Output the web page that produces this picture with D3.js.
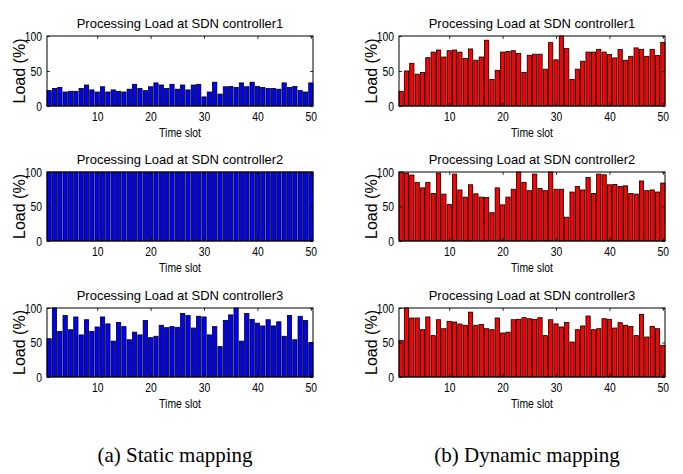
<!DOCTYPE html>
<html>
<head>
<meta charset="utf-8">
<script src="https://cdn.jsdelivr.net/npm/d3@7/dist/d3.min.js"></script>
<style>
  html, body { margin: 0; padding: 0; background: #fff; }
  svg { display: block; }
</style>
</head>
<body>
<svg id="chart" width="683" height="474"></svg>
<script>
// ---- data ----
const timeSlots = d3.range(1, 51);
const xTicks = [10, 20, 30, 40, 50];
const yTicks = [0, 50, 100];
const panelTitles = ["Processing Load at SDN controller1", "Processing Load at SDN controller2", "Processing Load at SDN controller3"];
const captions = ["(a) Static mapping", "(b) Dynamic mapping"];
const xLabel = "Time slot";
const yLabel = "Load (%)";

const staticC1 = [22,25,26.5,20,21,21,25,30,23,20,27.5,20,23,21,20,24,31,25,22,27.5,33,30,25,31,24,30,23,30,31,13,20,34,17,27.5,28,26.5,33,27.5,34,28,26.5,25,25,24,33,26.5,28,22,20,33];
const staticC2 = [100,100,100,100,100,100,100,100,100,100,100,100,100,100,100,100,100,100,100,100,100,100,100,100,100,100,100,100,100,100,100,100,100,100,100,100,100,100,100,100,100,100,100,100,100,100,100,100,100,100];
const staticC3 = [55.5,100,66,89,68.5,87,61,83,66,72.5,87,77,52,79,73,54,65,61,82,57,59,75,71.5,73,72,92,89,71,88,87,61,73,44,82,90,100,52,92,83.5,78,74,83,74,80,59,89,54,88,82,50];
const dynamicC1 = [21,50,61,45.5,48,69,77,80,70,79,80,77,68,81.5,65.5,70,94,38,51,77,78,79,75,48,72.5,74,74,52.6,90.5,66,100,82,38,52.6,64,77,77,81,77,73.5,68.7,80.6,65.4,71,83,81,71,81,72,91];
const dynamicC2 = [100,98.5,95.6,85,77,85,69,98.5,68,53,97,74,63.6,81.5,68.4,63.6,63,41,77,52.4,63.6,75,100,85,73,97,76,73,100,75,75,34.5,71,79,74,92,69,97,96,81.5,82,79,80,69,68,87,73,74,71,84];
const dynamicC3 = [53,100,85.5,85.5,68.6,87,60,83,70,80.7,79.7,76.8,75,94,75,76,70,68.6,85.5,63.8,65,83,83.6,86,84.5,83.6,86,60,83,77,72.5,79,50.7,68.6,74,88.4,68.6,70,84.5,83.6,71,78.7,75,73.4,60,90.8,58,73.4,70,46];

const columns = [
  { series: [staticC1, staticC2, staticC3], color: "#0000ff" },
  { series: [dynamicC1, dynamicC2, dynamicC3], color: "#ff0000" }
];

// ---- layout ----
const colX = [[47, 313], [399, 665]];
const rowY = [[36, 106], [172, 241], [308, 377]];
const captionY = 462;
const narrow = 0.8;

const svg = d3.select("#chart");
const sans = "'Liberation Sans', Arial, Helvetica, sans-serif";

columns.forEach((col, ci) => {
  const [xl, xr] = colX[ci];
  const x = d3.scaleLinear().domain([0.6, 50.4]).range([xl, xr]);
  col.series.forEach((vals, ri) => {
    const [yt, yb] = rowY[ri];
    const y = d3.scaleLinear().domain([0, 100]).range([yb, yt]);
    const g = svg.append("g");

    // bars
    g.selectAll("rect.bar").data(timeSlots).enter().append("rect")
      .attr("class", "bar")
      .attr("x", d => x(d - 0.4))
      .attr("width", d => x(d + 0.4) - x(d - 0.4))
      .attr("y", (d, i) => y(vals[i]))
      .attr("height", (d, i) => y(0) - y(vals[i]))
      .attr("fill", col.color)
      .attr("stroke", "#000")
      .attr("stroke-width", 0.8);

    // axes (ticks inside, MATLAB style)
    const ax = (axis, tx, ty, labels) => {
      const a = g.append("g").attr("transform", `translate(${tx},${ty})`).call(axis);
      a.select(".domain").remove();
      a.selectAll(".tick line").attr("stroke", "#000").attr("stroke-width", 0.8);
      const t = a.selectAll(".tick text").attr("fill", "#000")
        .style("font-family", sans).style("font-size", "13px");
      if (!labels) t.remove();
      else t.attr("transform", `scale(${narrow},1)`)
        .attr("x", function() { return +d3.select(this).attr("x") / narrow; });
      return a;
    };
    ax(d3.axisBottom(x).tickValues(xTicks).tickSizeInner(-3).tickSizeOuter(0).tickPadding(6), 0, yb, true);
    ax(d3.axisTop(x).tickValues(xTicks).tickSizeInner(-3).tickSizeOuter(0), 0, yt, false);
    ax(d3.axisLeft(y).tickValues(yTicks).tickSizeInner(-3).tickSizeOuter(0).tickPadding(5), xl, 0, true);
    ax(d3.axisRight(y).tickValues(yTicks).tickSizeInner(-3).tickSizeOuter(0), xr, 0, false);

    // frame
    g.append("rect").attr("x", xl).attr("y", yt).attr("width", xr - xl).attr("height", yb - yt)
      .attr("fill", "none").attr("stroke", "#000").attr("stroke-width", 1);

    // title
    g.append("text").attr("x", (xl + xr) / 2).attr("y", yt - 8)
      .attr("text-anchor", "middle").style("font-family", sans)
      .style("font-size", "13px").text(panelTitles[ri]);
    // x label
    g.append("text")
      .attr("transform", `translate(${(xl + xr) / 2},${yb + 31}) scale(${narrow},1)`)
      .attr("text-anchor", "middle").style("font-family", sans)
      .style("font-size", "13px").text(xLabel);
    // y label
    g.append("text").attr("transform", `translate(${xl - 28},${(yt + yb) / 2}) rotate(-90)`)
      .attr("text-anchor", "middle").attr("dy", "0.35em")
      .style("font-family", sans)
      .style("font-size", "16px").text(yLabel);
  });
  // caption
  svg.append("text").attr("x", (xl + xr) / 2 - 5).attr("y", captionY)
    .attr("text-anchor", "middle").style("font-family", "'Liberation Serif', 'Times New Roman', serif")
    .style("font-size", "21px").text(captions[ci]);
});
</script>
</body>
</html>
